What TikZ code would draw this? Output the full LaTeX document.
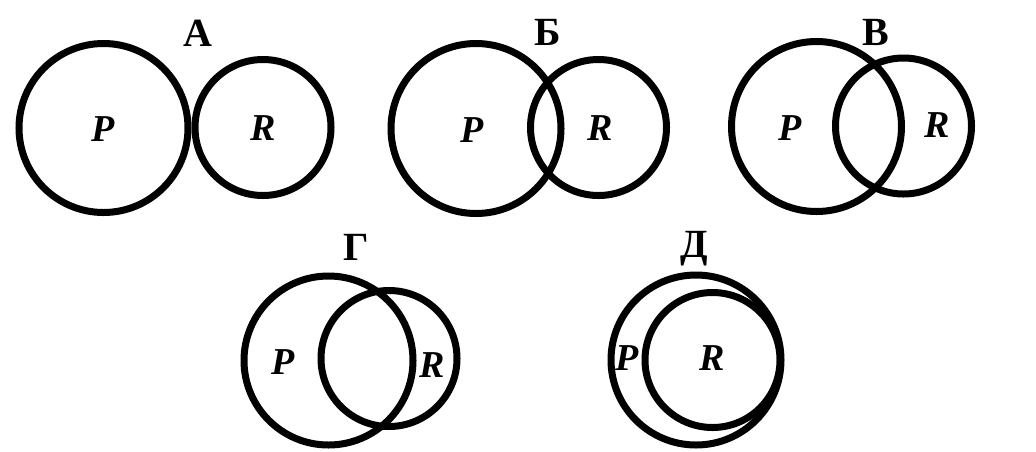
\documentclass[tikz,border=0pt]{standalone}
\usepackage{fontspec}
\setmainfont{Liberation Serif}
\begin{document}
\begin{tikzpicture}[x=1pt,y=-1pt,
  ring/.style={draw=black,line width=7pt},
  setlbl/.style={font=\fontsize{38}{38}\selectfont\bfseries\itshape,inner sep=0pt},
  ttl/.style={font=\fontsize{40}{40}\selectfont\bfseries,inner sep=0pt}]
\useasboundingbox[fill=white] (0,0) rectangle (1036,451);
% A
\draw[ring] (103.5,128) circle (84.5);
\draw[ring] (263,127.5) circle (68);
\node[setlbl] (aP) at (103,129) {P};
\node[setlbl] (aR) at (263,128) {R};
\node[ttl] (aT) at (198,33) {А};
% B (Б)
\draw[ring] (476,128.5) circle (85);
\draw[ring] (598.5,127.5) circle (68);
\node[setlbl] (bP) at (472,130) {P};
\node[setlbl] (bR) at (600,128) {R};
\node[ttl] (bT) at (548,32) {Б};
% V (В)
\draw[ring] (816.5,126.5) circle (85);
\draw[ring] (903.5,126) circle (68);
\node[setlbl] (vP) at (790,128) {P};
\node[setlbl] (vR) at (937,125) {R};
\node[ttl] (vT) at (876,32) {В};
% G (Г)
\draw[ring] (328.5,360.5) circle (84.5);
\draw[ring] (389,358.5) circle (68);
\node[setlbl] (gP) at (283,362) {P};
\node[setlbl] (gR) at (432,365) {R};
\node[ttl] (gT) at (356,247) {Г};
% D (Д)
\draw[ring] (696,360) circle (85);
\draw[ring] (712.5,360) circle (67.5);
\node[setlbl] (dP) at (627,358) {P};
\node[setlbl] (dR) at (712,358) {R};
\node[ttl] (dT) at (694,249) {Д};
\end{tikzpicture}
\end{document}
